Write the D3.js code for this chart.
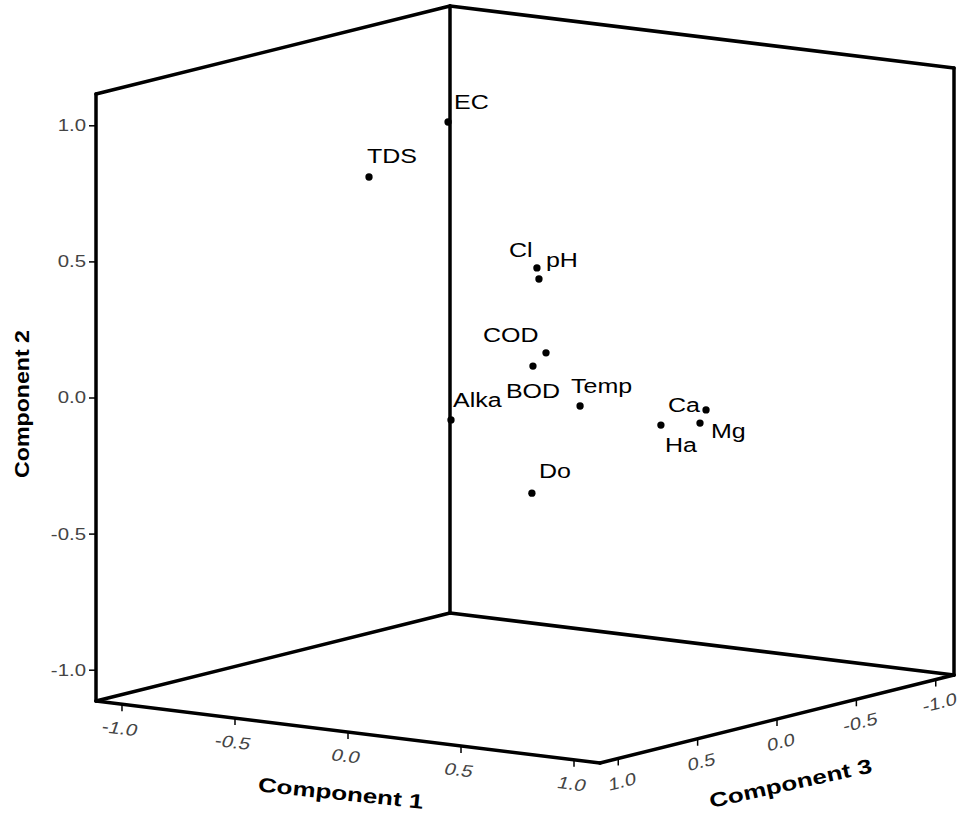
<!DOCTYPE html>
<html>
<head>
<meta charset="utf-8">
<script src="https://cdn.jsdelivr.net/npm/d3@7"></script>
<style>
  html, body { margin: 0; padding: 0; background: #fff; }
  svg { display: block; font-family: Arial, "Liberation Sans", sans-serif; }
</style>
</head>
<body>
<svg width="963" height="821"></svg>
<script>
// component loadings
const variables = ['EC', 'TDS', 'Cl', 'pH', 'COD', 'BOD', 'Temp', 'Alka', 'Ca', 'Mg', 'Ha', 'Do']
const comp1 = [-0.200, -0.450, 0.300, 0.250, 0.350, 0.300, 0.500, 0.200, 0.900, 0.900, 0.850, 0.400]
const comp2 = [0.973, 0.766, 0.510, 0.452, 0.205, 0.153, 0.025, -0.001, 0.019, -0.024, -0.011, -0.282]
const comp3 = [0.200, 0.342, 0.352, 0.268, 0.366, 0.377, 0.365, 0.751, 0.141, 0.179, 0.354, 0.526]
const tickValues = [-1.0, -0.5, 0.0, 0.5, 1.0]

// label placement relative to each point (dx, dy of baseline)
const labelOffsets = [[6, -13], [-2, -14], [-28, -11], [7, -12], [-63, -11], [-27, 32],
                      [-9, -13], [2, -13], [-38, 2], [11, 15], [4, 27], [7, -15]]

const svg = d3.select('svg')

// box corners (floor): A front-left, B front, D back, C right
const A = [96, 701], B = [600, 763], D = [450, 613]
const C = [B[0] + D[0] - A[0], B[1] + D[1] - A[1]]
const H = 607
const lim = 1.115

const s1 = d3.scaleLinear().domain([-lim, lim]).range([0, 1])
const s3 = d3.scaleLinear().domain([lim, -lim]).range([0, 1])
const s2 = d3.scaleLinear().domain([-lim, lim]).range([0, H])

function project(c1, c2, c3) {
  const t1 = s1(c1), t3 = s3(c3)
  return [
    A[0] + t1 * (B[0] - A[0]) + t3 * (D[0] - A[0]),
    A[1] + t1 * (B[1] - A[1]) + t3 * (D[1] - A[1]) - s2(c2)
  ]
}

const up = p => [p[0], p[1] - H]
const edges = [
  [A, B], [B, C], [C, D], [D, A],
  [A, up(A)], [D, up(D)], [C, up(C)],
  [up(A), up(D)], [up(D), up(C)]
]

const box = svg.append('g').attr('id', 'box')
box.selectAll('line')
  .data(edges)
  .join('line')
  .attr('x1', d => d[0][0]).attr('y1', d => d[0][1])
  .attr('x2', d => d[1][0]).attr('y2', d => d[1][1])
  .attr('stroke', '#000')
  .attr('stroke-width', 3.5)
  .attr('stroke-linecap', 'round')

const fmt = v => d3.format('.1f')(v).replace('\u2212', '-')
const tickColor = '#444'

// Component 2 axis (vertical, front-left edge)
const yScale = d3.scaleLinear().domain([-lim, lim]).range([A[1], A[1] - H])
const yAxis = d3.axisLeft(yScale).tickValues(tickValues).tickFormat(fmt).tickSize(7).tickSizeOuter(0)
const yG = svg.append('g')
  .attr('transform', `translate(${A[0]}, 0)`)
  .call(yAxis)
yG.select('.domain').remove()
yG.selectAll('.tick line').attr('stroke', '#000').attr('stroke-width', 1.5)
yG.selectAll('.tick text')
  .attr('x', null)
  .attr('transform', 'translate(-10, 0) scale(1.2, 1)')
  .attr('fill', tickColor)
  .style('font-size', '17px')
  .style('font-family', 'Arial, "Liberation Sans", sans-serif')

// Component 1 axis (bottom front-left edge)
const ang1 = Math.atan2(B[1] - A[1], B[0] - A[0]) * 180 / Math.PI
const g1 = svg.append('g')
tickValues.forEach(v => {
  const p = project(v, -lim, lim)
  g1.append('line')
    .attr('x1', p[0]).attr('y1', p[1]).attr('x2', p[0]).attr('y2', p[1] + 7)
    .attr('stroke', '#000').attr('stroke-width', 1.5)
  g1.append('text')
    .attr('transform', `translate(${p[0] - 2}, ${p[1] + 24}) rotate(${ang1}) skewX(-12) scale(1.2, 1)`)
    .attr('text-anchor', 'middle')
    .attr('dy', '0.35em')
    .attr('fill', tickColor)
    .style('font-size', '17px')
    .text(fmt(v))
})

// Component 3 axis (bottom front-right edge)
const ang3 = Math.atan2(C[1] - B[1], C[0] - B[0]) * 180 / Math.PI
const g3 = svg.append('g')
tickValues.forEach(v => {
  const p = project(lim, -lim, v)
  g3.append('line')
    .attr('x1', p[0]).attr('y1', p[1]).attr('x2', p[0]).attr('y2', p[1] + 7)
    .attr('stroke', '#000').attr('stroke-width', 1.5)
  g3.append('text')
    .attr('transform', `translate(${p[0] + 4}, ${p[1] + 23}) rotate(${ang3}) skewX(-12) scale(1.2, 1)`)
    .attr('text-anchor', 'middle')
    .attr('dy', '0.35em')
    .attr('fill', tickColor)
    .style('font-size', '17px')
    .text(fmt(v))
})

// axis titles
const titles = svg.append('g')
  .style('font-weight', 'bold')
  .style('font-size', '20px')
  .attr('fill', '#000')
  .attr('text-anchor', 'middle')
titles.append('text')
  .attr('transform', 'translate(340, 800) rotate(6) scale(1.3, 1)')
  .text('Component 1')
titles.append('text')
  .attr('transform', 'translate(29, 404) rotate(-90)')
  .attr('textLength', 148)
  .attr('lengthAdjust', 'spacingAndGlyphs')
  .text('Component 2')
titles.append('text')
  .attr('transform', 'translate(792, 790) rotate(-12.5) scale(1.3, 1)')
  .text('Component 3')

// points
const points = variables.map((name, i) => ({
  name,
  pos: project(comp1[i], comp2[i], comp3[i]),
  off: labelOffsets[i]
}))

const pg = svg.append('g').attr('id', 'points')
pg.selectAll('path.mark')
  .data(points)
  .join('path')
  .attr('class', 'mark')
  .attr('transform', d => `translate(${d.pos[0]}, ${d.pos[1]})`)
  .attr('d', d3.symbol(d3.symbolCircle, 42))
  .attr('fill', '#000')

pg.selectAll('text')
  .data(points)
  .join('text')
  .attr('transform', d => `translate(${d.pos[0] + d.off[0]}, ${d.pos[1] + d.off[1]}) scale(1.25, 1)`)
  .attr('fill', '#000')
  .style('font-size', '20px')
  .text(d => d.name)
</script>
</body>
</html>
